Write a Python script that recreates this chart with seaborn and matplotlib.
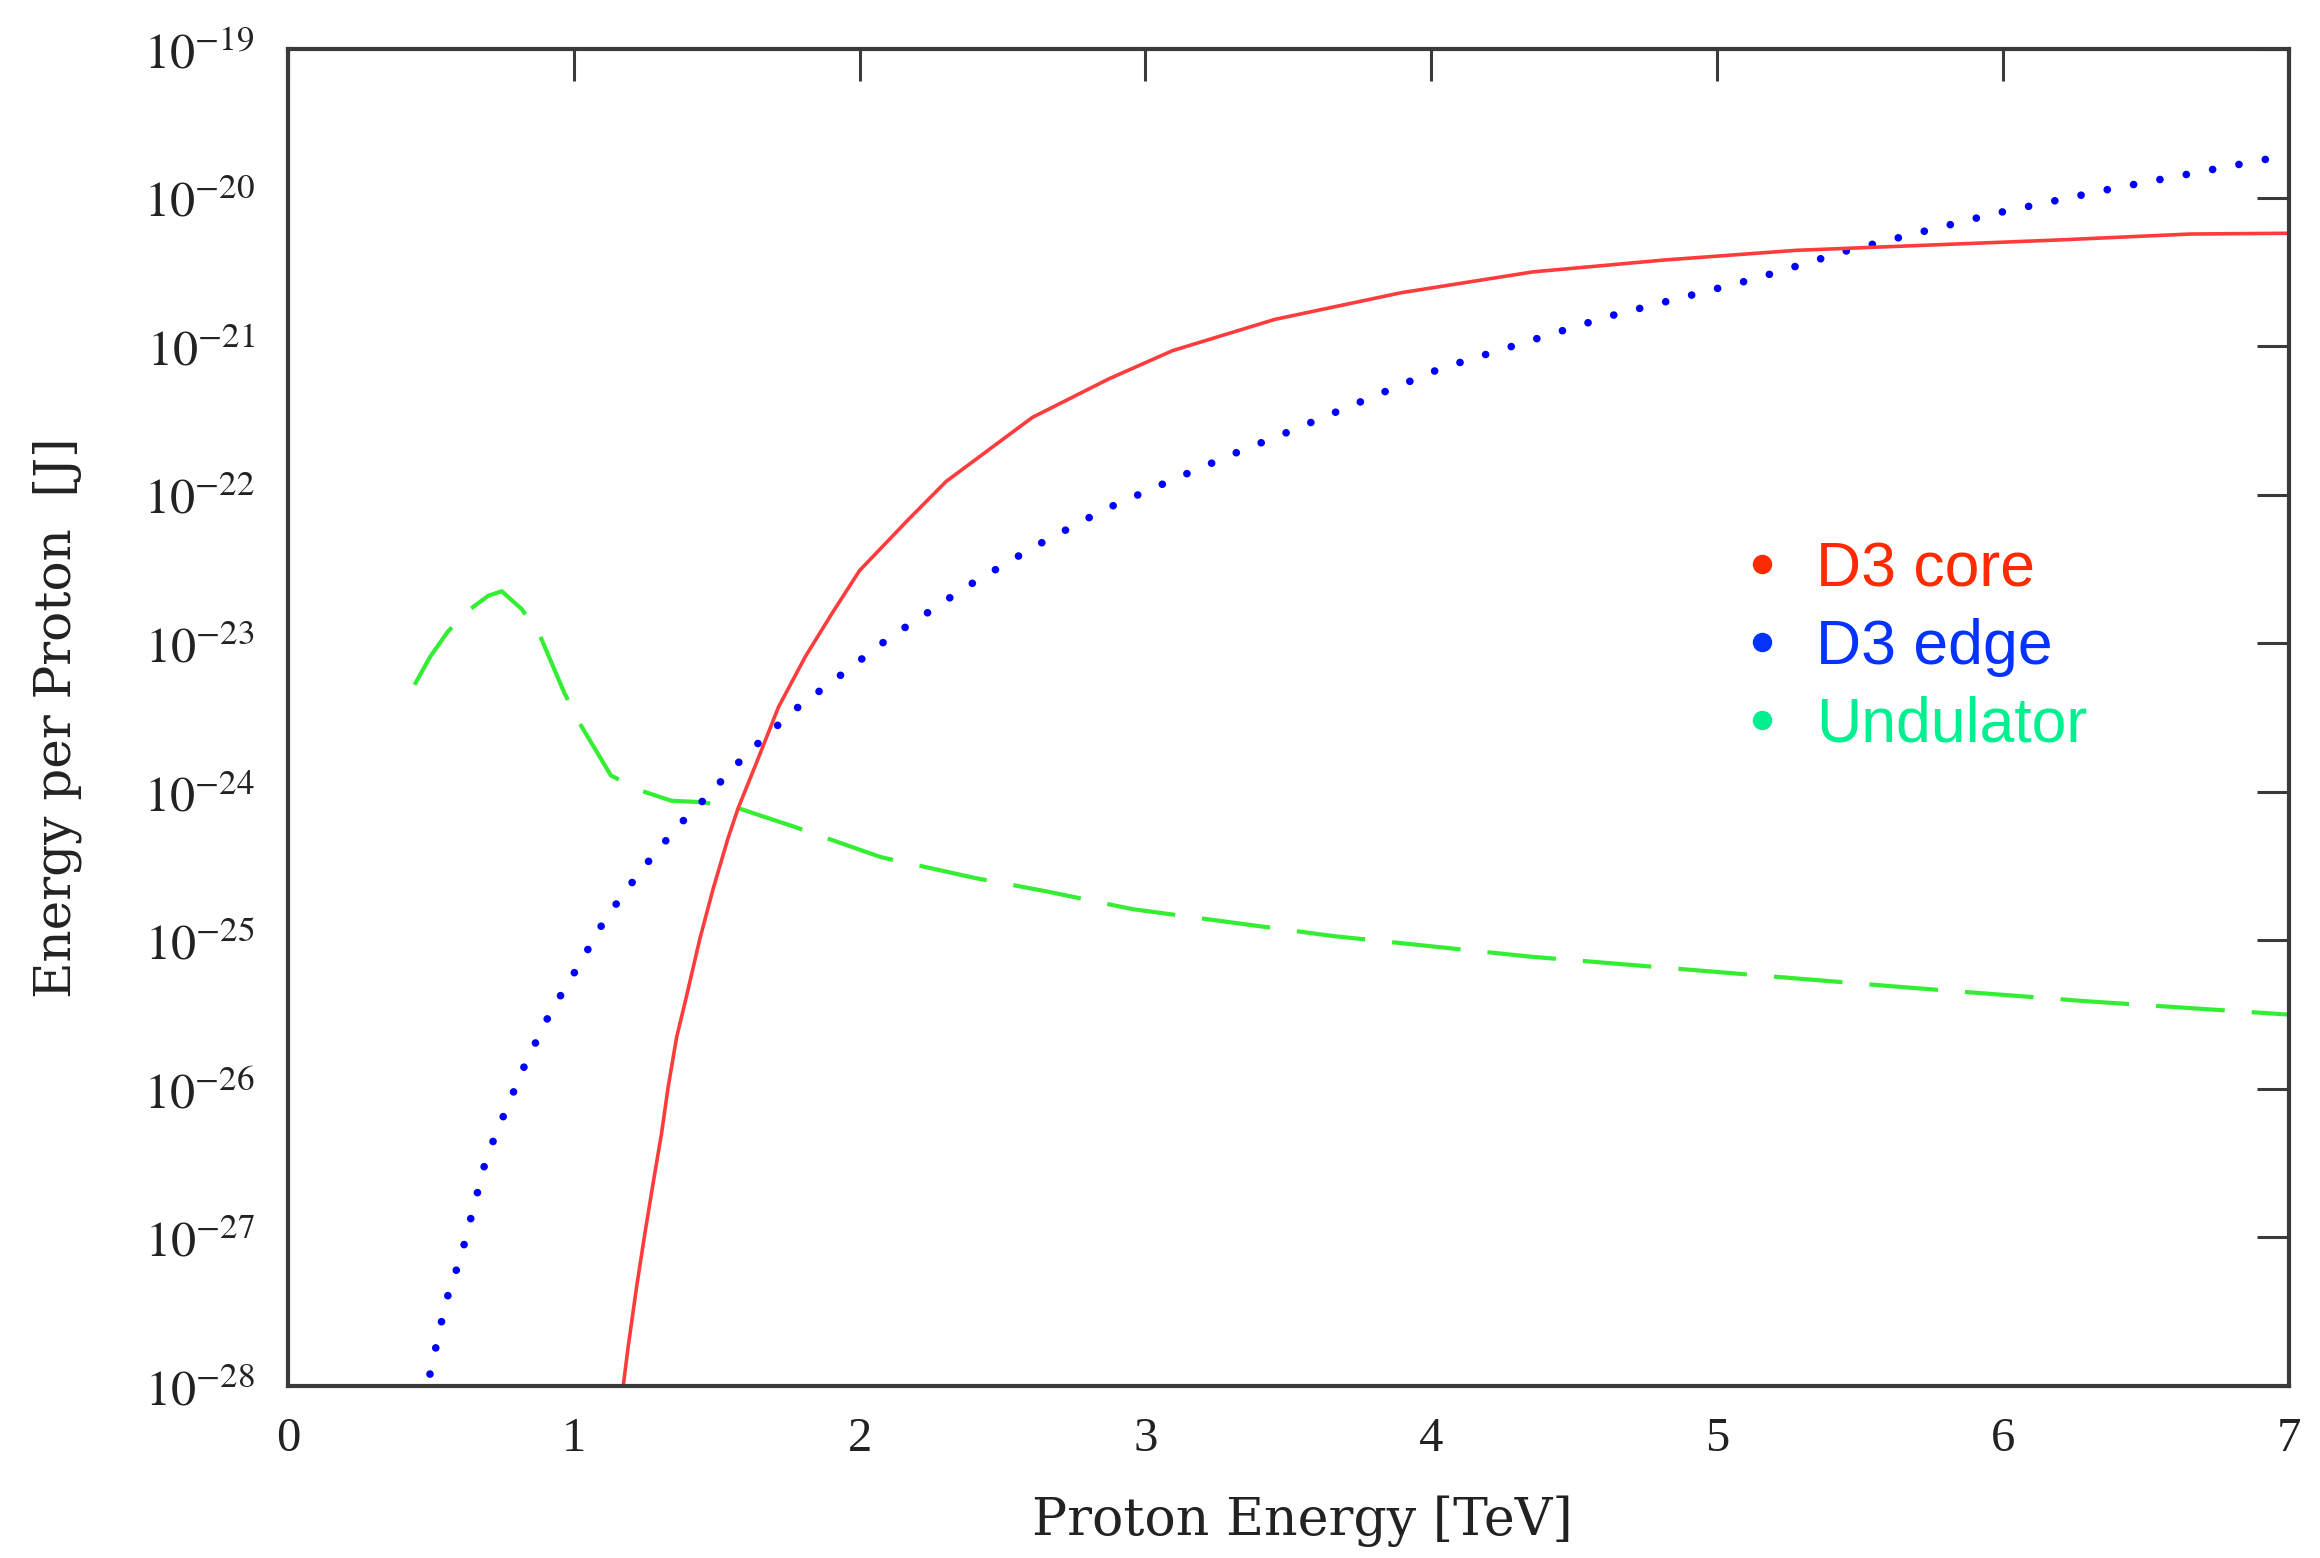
import numpy as np
import pandas as pd
import matplotlib
matplotlib.use("Agg")
import matplotlib.pyplot as plt
import seaborn as sns
from matplotlib.lines import Line2D
from matplotlib.ticker import FixedLocator, FixedFormatter, NullLocator

# ---------------- data ----------------
# D3 core: proton energy [TeV] and log10(energy per proton [J])
core_x = [1.173, 1.19, 1.22, 1.249, 1.278, 1.307, 1.33, 1.36, 1.389, 1.441,
          1.488, 1.54, 1.575, 1.638, 1.716, 1.81, 1.903, 2.0, 2.169, 2.303,
          2.604, 2.872, 3.095, 3.452, 3.895, 4.355, 4.815, 5.275, 5.735,
          6.194, 6.655, 7.0]
core_log10 = [-28.0, -27.74, -27.33, -26.97, -26.63, -26.30, -25.99, -25.65,
              -25.42, -24.99, -24.65, -24.31, -24.11, -23.81, -23.43, -23.09,
              -22.80, -22.51, -22.17, -21.91, -21.48, -21.22, -21.03, -20.82,
              -20.64, -20.50, -20.42, -20.355, -20.32, -20.285, -20.245, -20.24]

# D3 edge
edge_x = [0.497, 0.553, 0.608, 0.652, 0.695, 0.763, 0.833, 0.917, 1.017,
          1.112, 1.239, 1.365, 1.447, 1.602, 1.771, 1.937, 2.106, 2.273,
          2.356, 2.611, 2.856, 3.106, 3.351, 3.446, 4.033, 4.619, 5.125,
          5.459, 5.964, 6.38, 6.98]
edge_log10 = [-27.92, -27.43, -27.11, -26.78, -26.46, -26.14, -25.82, -25.49,
              -25.17, -24.85, -24.52, -24.23, -24.07, -23.75, -23.45, -23.21,
              -22.96, -22.75, -22.64, -22.35, -22.10, -21.89, -21.69, -21.62,
              -21.15, -20.80, -20.55, -20.355, -20.11, -19.94, -19.72]

# Undulator
und_x = [0.443, 0.498, 0.56, 0.638, 0.701, 0.748, 0.818, 0.88, 0.966, 1.021,
         1.13, 1.232, 1.341, 1.45, 1.575, 1.763, 2.075, 2.403, 2.653, 2.955,
         3.652, 4.348, 5.045, 5.683, 6.293, 7.0]
und_log10 = [-23.28, -23.09, -22.92, -22.77, -22.68, -22.65, -22.77, -22.94,
             -23.33, -23.54, -23.89, -23.99, -24.06, -24.07, -24.11, -24.23,
             -24.44, -24.58, -24.67, -24.79, -24.97, -25.11, -25.22, -25.32,
             -25.41, -25.50]

series_names = ["D3 core", "D3 edge", "Undulator"]
line_colors = ["#ff3c3c", "#0000ff", "#33ee33"]
legend_colors = ["#ff2a00", "#0433ff", "#00f090"]

x_ticks = [0, 1, 2, 3, 4, 5, 6, 7]
x_tick_labels = ["0", "1", "2", "3", "4", "5", "6", "7"]
y_exponents = [-28, -27, -26, -25, -24, -23, -22, -21, -20, -19]
y_tick_labels = [r"$10^{-28}$", r"$10^{-27}$", r"$10^{-26}$", r"$10^{-25}$",
                 r"$10^{-24}$", r"$10^{-23}$", r"$10^{-22}$", r"$10^{-21}$",
                 r"$10^{-20}$", r"$10^{-19}$"]

x_label = "Proton Energy [TeV]"
y_label = "Energy per Proton  [J]"

# ---------------- plotting ----------------
sns.set_theme(style="white")
plt.rcParams["mathtext.fontset"] = "stix"
plt.rcParams["font.family"] = ["DejaVu Serif"]

fig = plt.figure(figsize=(23.2, 15.58), dpi=100)
ax = fig.add_axes([0.1241, 0.1104, 0.8625, 0.8581])

core_df = pd.DataFrame({"x": core_x, "y": 10.0 ** np.array(core_log10)})
edge_df = pd.DataFrame({"x": edge_x, "y": 10.0 ** np.array(edge_log10)})
und_df = pd.DataFrame({"x": und_x, "y": 10.0 ** np.array(und_log10)})

sns.lineplot(data=und_df, x="x", y="y", ax=ax, color=line_colors[2],
             linewidth=3.0, linestyle=(0, (16.5, 6.5)), dash_capstyle="butt",
             estimator=None, sort=False)
sns.lineplot(data=edge_df, x="x", y="y", ax=ax, color=line_colors[1],
             linewidth=5.5, linestyle=(0, (0.01, 3.5)), dash_capstyle="round",
             estimator=None, sort=False)
sns.lineplot(data=core_df, x="x", y="y", ax=ax, color=line_colors[0],
             linewidth=2.6, estimator=None, sort=False)

ax.set_yscale("log")
ax.set_xlim(0, 7)
ax.set_ylim(1e-28, 1e-19)

ax.yaxis.set_major_locator(FixedLocator([10.0 ** e for e in y_exponents]))
ax.yaxis.set_major_formatter(FixedFormatter(y_tick_labels))
ax.yaxis.set_minor_locator(NullLocator())
ax.set_xticks(x_ticks)
ax.set_xticklabels(x_tick_labels, fontfamily="Liberation Serif")

ax.tick_params(axis="both", which="major", direction="in", length=23,
               width=2.2, color="#3a3a3a", top=True, right=True,
               labelcolor="#222222")
ax.tick_params(axis="y", pad=24, labelsize=36)
ax.tick_params(axis="x", pad=22, labelsize=35)

for sp in ax.spines.values():
    sp.set_linewidth(3.0)
    sp.set_color("#3a3a3a")
    sp.set_visible(True)

ax.set_xlabel(x_label, fontfamily="DejaVu Serif", fontsize=37.5, color="#222222")
ax.set_ylabel(y_label, fontfamily="DejaVu Serif", fontsize=36, color="#222222")
ax.xaxis.set_label_coords(0.507, -0.082)
ax.yaxis.set_label_coords(-0.103, 0.5)

handles = [Line2D([], [], marker="o", linestyle="none", markersize=14,
                  color=c, markeredgewidth=0) for c in legend_colors]
ax.legend(handles, series_names, loc="upper left",
          bbox_to_anchor=(0.7461, 0.6534), bbox_transform=fig.transFigure,
          frameon=False, prop={"family": "Liberation Sans", "size": 45},
          labelcolor=legend_colors, handlelength=1.0, handletextpad=0.36,
          labelspacing=0.3, borderpad=0, borderaxespad=0)

fig.savefig("out.png", dpi=100, facecolor="white")
